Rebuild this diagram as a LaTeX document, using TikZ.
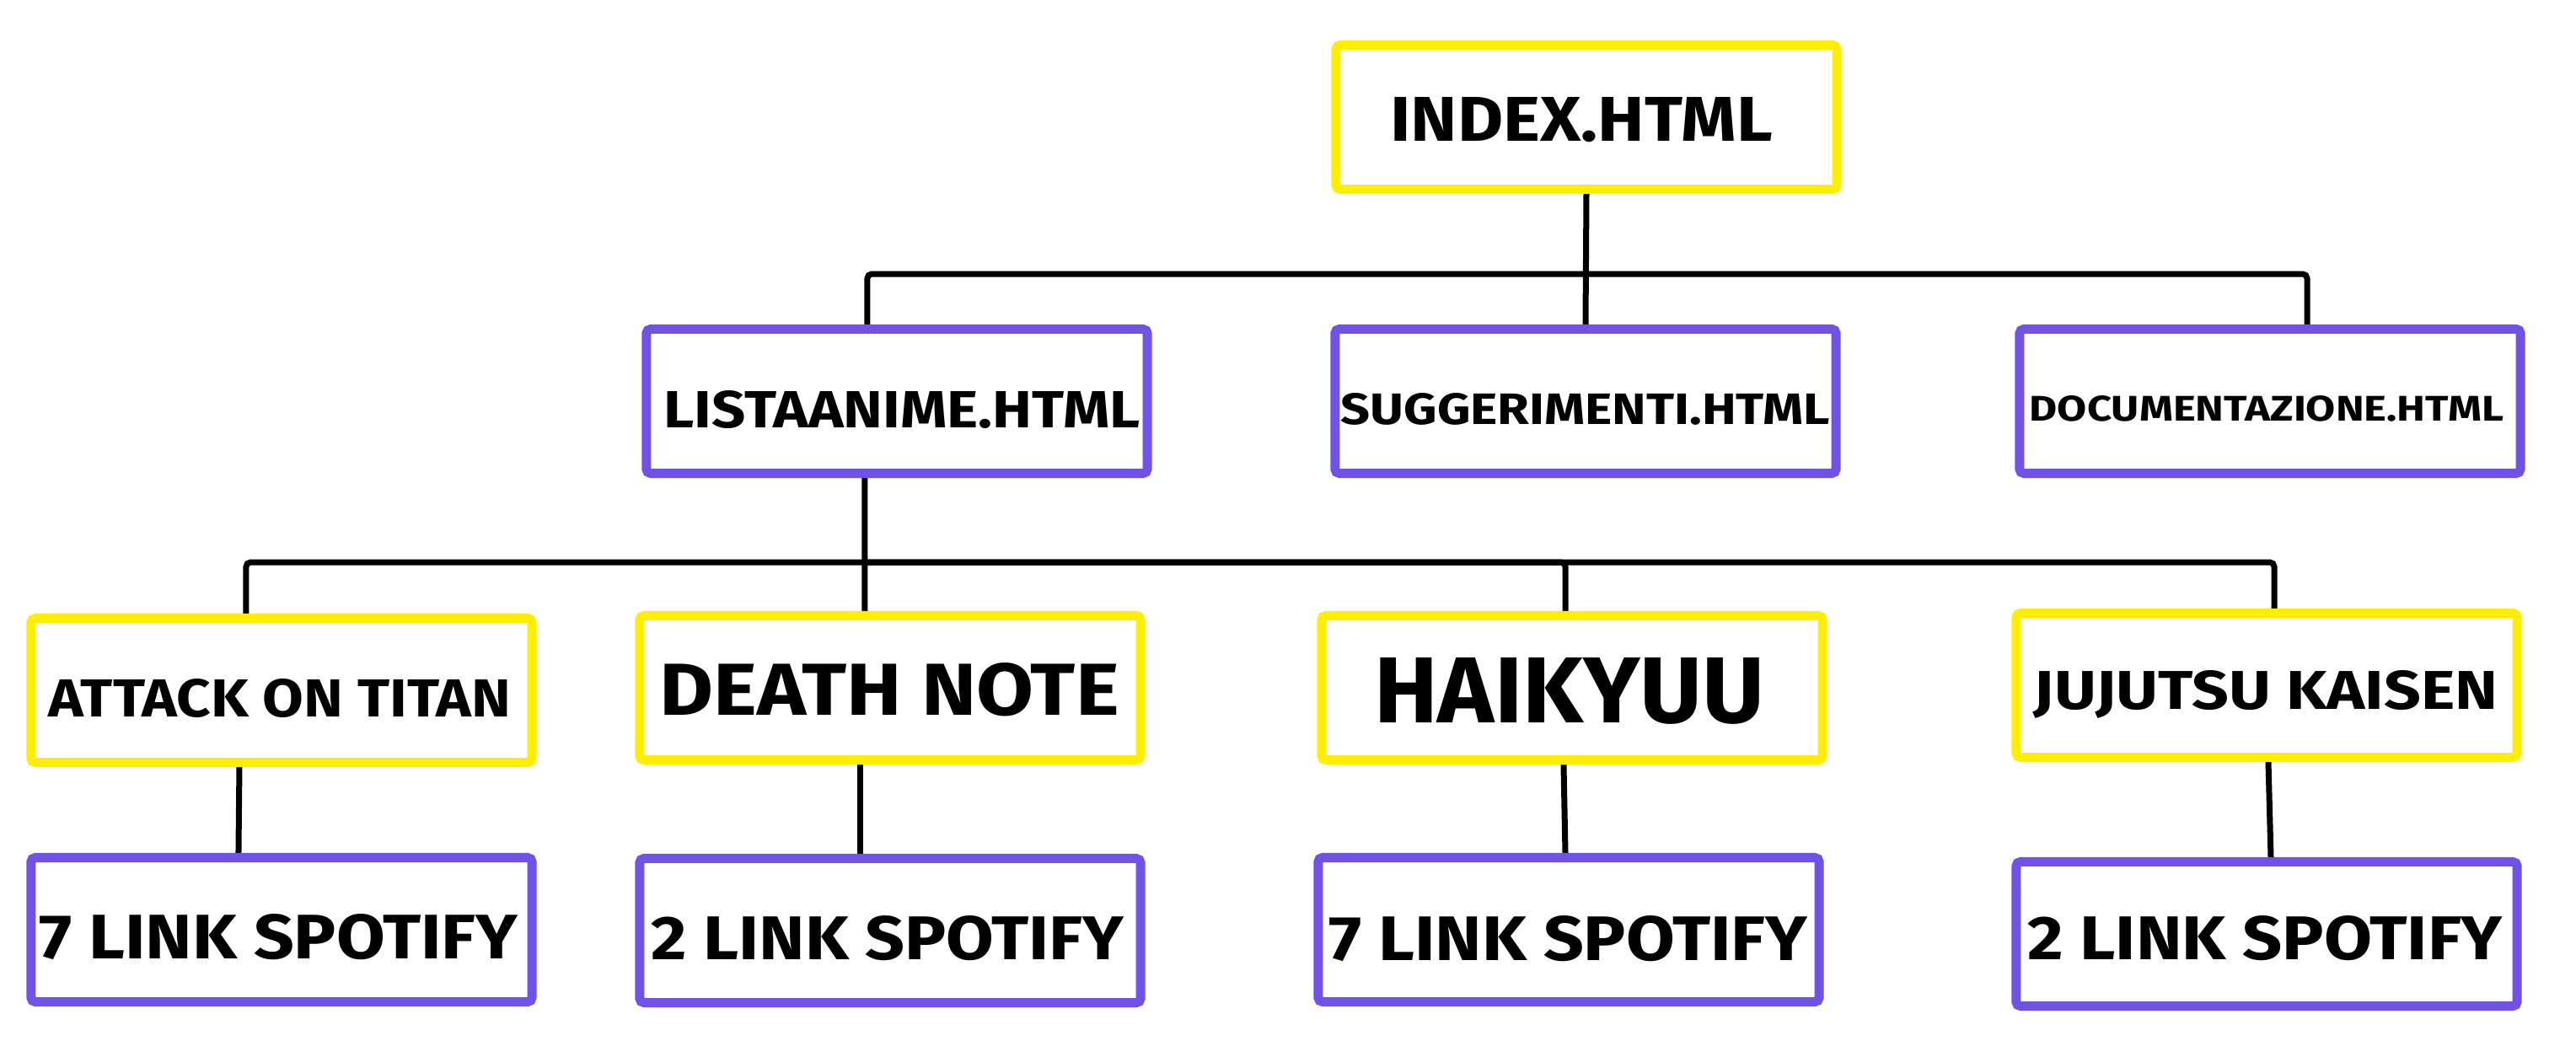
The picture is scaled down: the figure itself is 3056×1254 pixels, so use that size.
\documentclass[tikz,border=0pt]{standalone}
\usepackage{fontspec}
\setmainfont{Fira Sans}
\usepackage{graphicx}
\usetikzlibrary{backgrounds}
\definecolor{yel}{HTML}{FFEE00}
\definecolor{vio}{HTML}{7152E6}
\newcommand\fitt[3]{\resizebox{#1cm}{#2cm}{\bfseries #3}}
\begin{document}
\begin{tikzpicture}[x=0.01cm,y=-0.01cm,
  box/.style={draw=#1, line width=0.11cm, rounded corners=1.5pt, minimum width=5.94cm, minimum height=1.71cm, inner sep=0pt, fill=white},
  wire/.style={line width=0.07cm, line cap=round, rounded corners=1.5pt},
  lbl/.style={inner sep=0pt}]
\useasboundingbox (0,0) rectangle (3056,1254);
% boxes
\node[box=yel] (index) at (1882,139) {};
\node[box=vio] (lista) at (1064,476) {};
\node[box=vio] (sugg) at (1881,476) {};
\node[box=vio] (doc) at (2693,476) {};
\node[box=yel] (aot) at (334,819) {};
\node[box=yel] (dn) at (1056,816) {};
\node[box=yel] (hq) at (1865,816) {};
\node[box=yel] (jjk) at (2689,813) {};
\node[box=vio] (s1) at (334,1103) {};
\node[box=vio] (s2) at (1056,1104) {};
\node[box=vio] (s3) at (1861,1103) {};
\node[box=vio] (s4) at (2689,1108) {};
% texts
\node[lbl] (index-t) at (1876,142) {\fitt{4.53}{0.52}{INDEX.HTML}};
\node[lbl] (lista-t) at (1070,486) {\fitt{5.65}{0.44}{LISTAANIME.HTML}};
\node[lbl] (sugg-t) at (1881,485) {\fitt{5.80}{0.37}{SUGGERIMENTI.HTML}};
\node[lbl] (doc-t) at (2689,485) {\fitt{5.62}{0.30}{DOCUMENTAZIONE.HTML}};
\node[lbl] (aot-t) at (332,829) {\fitt{5.48}{0.45}{ATTACK ON TITAN}};
\node[lbl] (dn-t) at (1055,818) {\fitt{5.45}{0.62}{DEATH NOTE}};
\node[lbl] (hq-t) at (1862,820) {\fitt{4.63}{0.77}{HAIKYUU}};
\node[lbl] (jjk-t) at (2688,824) {\fitt{5.50}{0.46}{JUJUTSU KAISEN}};
\node[lbl] (s1-t) at (330,1112) {\fitt{5.67}{0.53}{7 LINK SPOTIFY}};
\node[lbl] (s2-t) at (1053,1113) {\fitt{5.60}{0.52}{2 LINK SPOTIFY}};
\node[lbl] (s3-t) at (1860,1114) {\fitt{5.67}{0.53}{7 LINK SPOTIFY}};
\node[lbl] (s4-t) at (2687,1113) {\fitt{5.63}{0.52}{2 LINK SPOTIFY}};
% connectors
\coordinate (b1) at (1881,325);
\coordinate (b2) at (1026,667);
\begin{pgfonlayer}{background}
\fill[white] (0,0) rectangle (3056,1254);
\draw[wire] (index.south) -- (sugg.north);
\draw[wire] ([xshift=-0.35cm]lista.north) |- (b1) -| ([xshift=0.44cm]doc.north);
\draw[wire] ([xshift=-0.38cm]lista.south) -- ([xshift=-0.30cm]dn.north);
\draw[wire] ([xshift=-0.42cm]aot.north) |- (b2) -| ([xshift=0.09cm]jjk.north);
\draw[wire] (b2) -| ([xshift=-0.08cm]hq.north);
\draw[wire] ([xshift=-0.50cm]aot.south) -- ([xshift=-0.51cm]s1.north);
\draw[wire] ([xshift=-0.35cm]dn.south) -- ([xshift=-0.35cm]s2.north);
\draw[wire] ([xshift=-0.10cm]hq.south) -- ([xshift=-0.04cm]s3.north);
\draw[wire] ([xshift=0.02cm]jjk.south) -- ([xshift=0.05cm]s4.north);
\end{pgfonlayer}
\end{tikzpicture}
\end{document}
